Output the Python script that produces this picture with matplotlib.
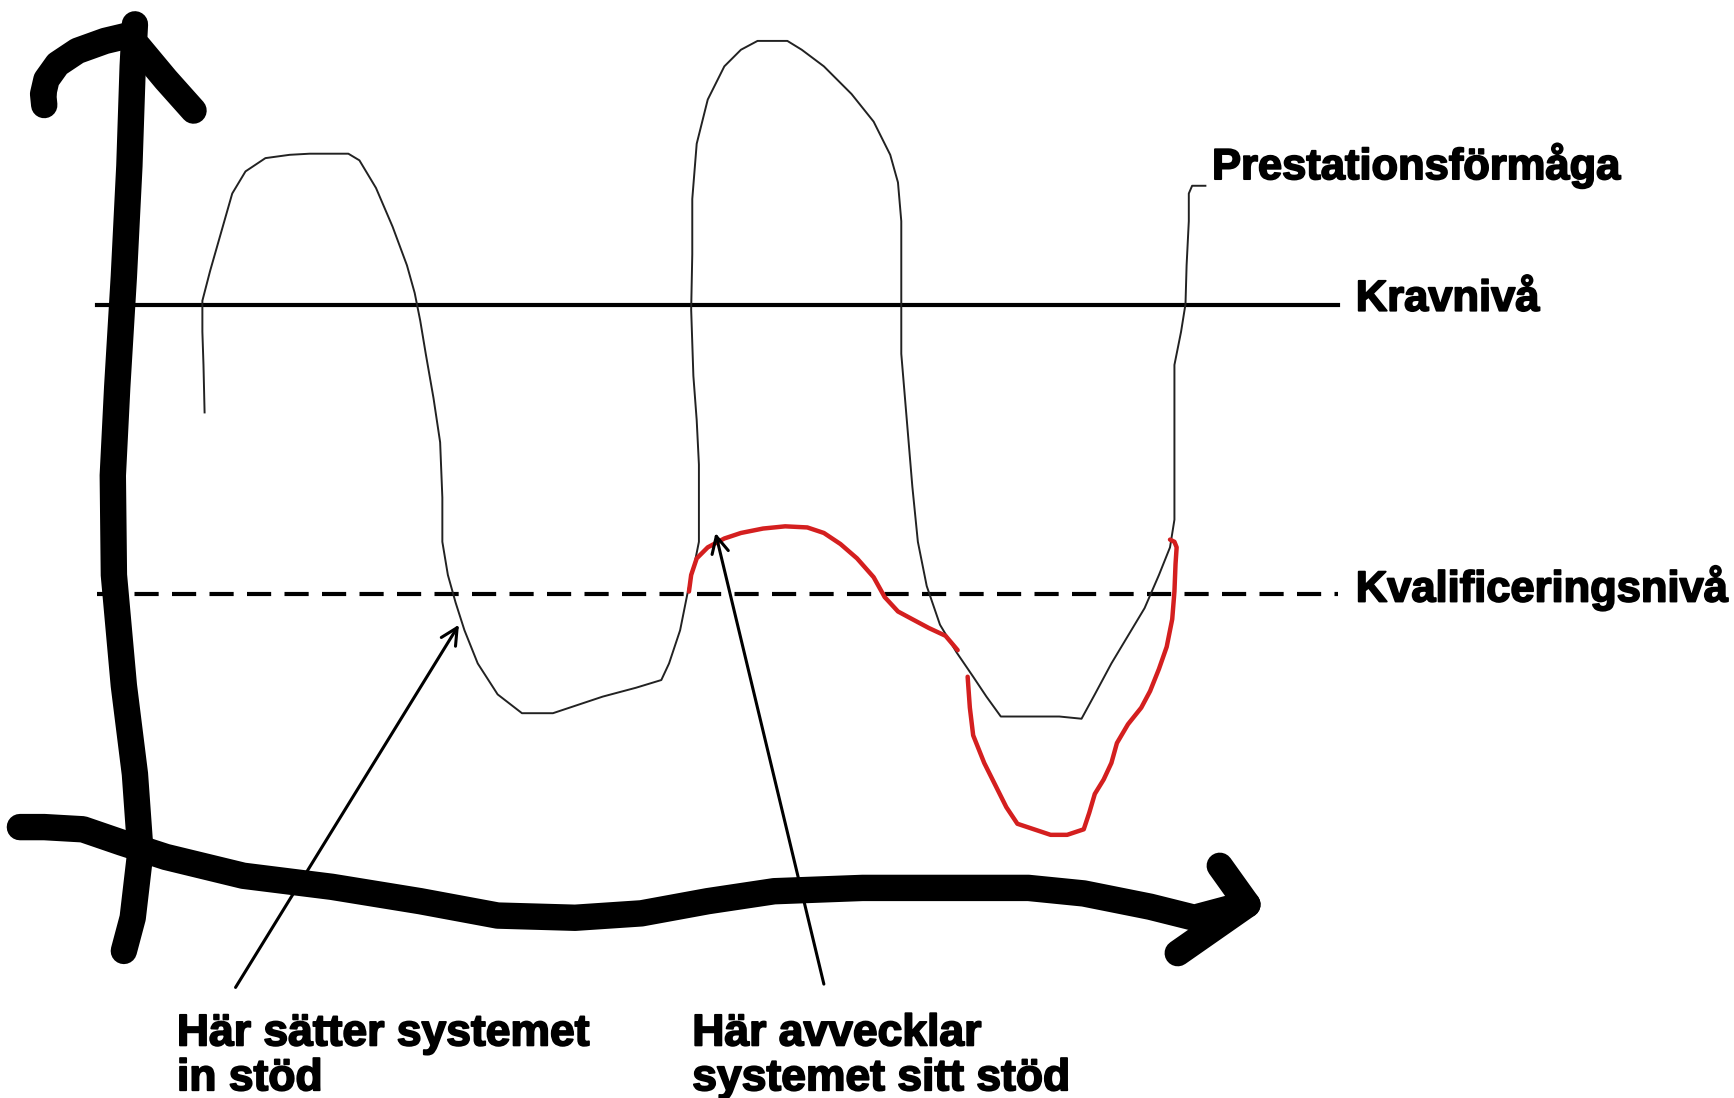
import numpy as np
import matplotlib.pyplot as plt
import matplotlib.patheffects as pe

# sketch coordinates (x right, y down, 1568 x 993 frame)
W, H = 1568, 993

# thick hand-drawn axes
yaxis_x = [112, 120, 127, 122, 112, 103, 102, 106, 112, 117, 120, 122]
yaxis_y = [860, 830, 770, 700, 620, 520, 430, 350, 250, 150, 60, 22]
yhead_left_x = [116, 95, 70, 52, 42, 39, 40]
yhead_left_y = [32, 37, 46, 58, 72, 85, 95]
yhead_right_x = [125, 150, 175]
yhead_right_y = [42, 72, 100]

xaxis_x = [18, 40, 75, 110, 150, 220, 300, 380, 450, 520, 580, 640, 700, 780,
           860, 930, 980, 1040, 1080, 1125]
xaxis_y = [748, 748, 750, 762, 775, 792, 802, 815, 828, 830, 826, 815, 806, 803,
           803, 803, 808, 820, 830, 818]
xhead_up_x = [1103, 1128]
xhead_up_y = [783, 818]
xhead_down_x = [1065, 1128]
xhead_down_y = [862, 818]

# performance curve (Prestationsförmåga)
perf_x = [185, 184, 183, 183, 190, 200, 210, 222, 240, 262, 280, 315, 325, 340,
          355, 368, 375, 380, 385, 392, 398, 400, 400, 405, 412, 420, 432, 450,
          472, 500, 515, 545, 575, 598, 605, 615, 622, 628, 632, 632, 632, 630,
          627, 625, 626, 626, 630, 640, 655, 670, 685, 712, 725, 745, 770, 790,
          805, 812, 815, 815, 815, 820, 825, 830, 838, 850, 865, 880, 892, 905,
          958, 978, 990, 1005, 1020, 1035, 1048, 1058, 1062, 1062, 1062, 1062,
          1068, 1072, 1073, 1075, 1075, 1078, 1090]
perf_y = [373, 330, 300, 272, 245, 210, 175, 155, 143, 140, 139, 139, 145, 170,
          205, 240, 265, 290, 320, 360, 400, 450, 490, 520, 545, 570, 600, 628,
          645, 645, 640, 630, 622, 615, 600, 570, 535, 510, 490, 460, 420, 380,
          340, 280, 230, 180, 130, 90, 60, 45, 37, 37, 45, 60, 85, 110,
          140, 165, 200, 280, 320, 380, 440, 490, 530, 565, 590, 612, 630, 648,
          648, 650, 628, 600, 575, 550, 520, 495, 470, 420, 370, 330,
          300, 275, 240, 200, 175, 168, 168]

# red support curve, drawn in two strokes
red1_x = [623, 625, 630, 640, 655, 670, 690, 710, 730, 745, 760, 775, 790, 800,
          812, 825, 840, 855, 866]
red1_y = [535, 520, 505, 495, 487, 482, 478, 476, 477, 482, 492, 505, 522, 540,
          553, 560, 568, 575, 588]
red2_x = [875, 877, 880, 890, 900, 910, 920, 935, 950, 965, 980, 985, 990, 998,
          1005, 1010, 1020, 1032, 1040, 1048, 1055, 1060, 1062, 1063, 1064,
          1062, 1058]
red2_y = [612, 640, 665, 690, 710, 730, 745, 750, 755, 755, 750, 735, 718, 705,
          690, 672, 655, 640, 625, 605, 585, 560, 535, 510, 495, 490, 488]

# reference levels
level_xmin, level_xmax = 88, 1210
krav_y = 276
kval_y = 537

labels = ["Prestationsförmåga", "Kravnivå", "Kvalificeringsnivå",
          "Här sätter systemet\nin stöd", "Här avvecklar\nsystemet sitt stöd"]
label_x = [1096, 1226, 1226, 160, 626]
label_y = [162, 281, 544, 986, 986]  # baseline of the last line

arrow_tail = [(213, 893), (745, 890)]
arrow_head = [(415, 565), (647, 482)]

fig = plt.figure(figsize=(17.34, 10.98), dpi=100)
ax = fig.add_axes([0, 0, 1, 1])
ax.set_xlim(0, W)
ax.set_ylim(H, 0)
ax.axis('off')

thick = dict(color='black', lw=19, solid_capstyle='round', solid_joinstyle='round')
ax.plot(yaxis_x, yaxis_y, **thick)
ax.plot(yhead_left_x, yhead_left_y, **thick)
ax.plot(yhead_right_x, yhead_right_y, **thick)
ax.plot(xaxis_x, xaxis_y, **thick)
ax.plot(xhead_up_x, xhead_up_y, **thick)
ax.plot(xhead_down_x, xhead_down_y, **thick)

ax.plot([level_xmin, level_xmax], [krav_y, krav_y], color='black', lw=3)
ax.plot([level_xmin, level_xmax], [kval_y, kval_y], color='black', lw=3,
        dashes=(5.8, 3.2))

ax.plot(perf_x, perf_y, color='#222222', lw=1.4, solid_joinstyle='round')
ax.plot(red1_x, red1_y, color='#d41f1f', lw=3.2, solid_capstyle='round',
        solid_joinstyle='round')
ax.plot(red2_x, red2_y, color='#d41f1f', lw=3.2, solid_capstyle='round',
        solid_joinstyle='round')

for tail, head in zip(arrow_tail, arrow_head):
    ax.annotate("", xy=head, xytext=tail,
                arrowprops=dict(arrowstyle='->', color='black', lw=2.2,
                                mutation_scale=30, shrinkA=0, shrinkB=0))

for i, (text, x, y) in enumerate(zip(labels, label_x, label_y)):
    size = 32 if i >= 3 else 31.3
    ax.text(x, y, text, ha='left', va='baseline', fontsize=size,
            fontweight='bold', family=['Liberation Sans', 'DejaVu Sans'],
            linespacing=1.12,
            path_effects=[pe.withStroke(linewidth=1.3, foreground='black')])

fig.savefig('out.png', dpi=100, facecolor='white')
